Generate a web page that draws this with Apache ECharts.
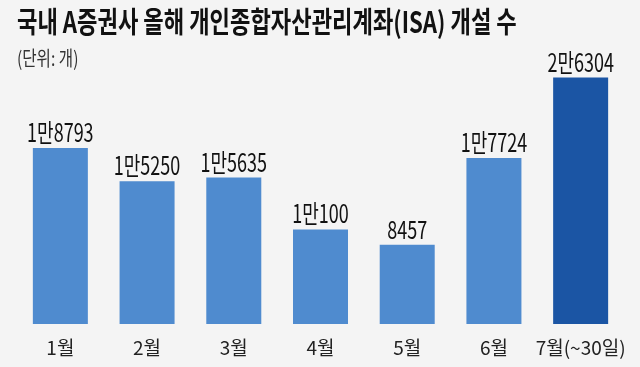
<!DOCTYPE html>
<html>
<head>
<meta charset="utf-8">
<script src="https://cdn.jsdelivr.net/npm/echarts@6/dist/echarts.min.js"></script>
<style>
  html, body { margin: 0; padding: 0; background: #f4f4f4; }
  #chart { width: 640px; height: 367px; }
</style>
</head>
<body>
<div id="chart"></div>
<script>
const months = ['1월', '2월', '3월', '4월', '5월', '6월', '7월(~30일)'];
const accounts = [18793, 15250, 15635, 10100, 8457, 17724, 26304];
const valueLabels = ['1만8793', '1만5250', '1만5635', '1만100', '8457', '1만7724', '2만6304'];

const korean = "'Noto Sans CJK KR', sans-serif";

const myChart = echarts.init(document.getElementById('chart'));

// bar + condensed value label, positioned by the axes
function renderBar(params, api) {
  const idx = params.dataIndex;
  const top = api.coord([api.value(0), api.value(1)]);
  const base = api.coord([api.value(0), 0]);
  const w = 55;
  const last = idx === accounts.length - 1;
  return {
    type: 'group',
    children: [
      {
        type: 'rect',
        shape: { x: top[0] - w / 2, y: top[1], width: w, height: base[1] - top[1] },
        style: { fill: last ? '#1b55a4' : '#4f8bcf' }
      },
      {
        type: 'text',
        x: top[0],
        y: top[1] - 3,
        scaleX: 0.72,
        style: {
          text: valueLabels[idx],
          font: '25px ' + korean,
          fill: '#111',
          align: 'center',
          verticalAlign: 'bottom'
        }
      }
    ]
  };
}

const option = {
  backgroundColor: '#f4f4f4',
  animation: false,
  graphic: [
    {
      type: 'text',
      left: 17,
      top: 7,
      scaleX: 0.765,
      style: {
        text: '국내 A증권사 올해 개인종합자산관리계좌(ISA) 개설 수',
        font: 'bold 29px ' + korean,
        fill: '#111'
      }
    },
    {
      type: 'text',
      left: 17,
      top: 48,
      scaleX: 0.78,
      style: {
        text: '(단위: 개)',
        font: '20px ' + korean,
        fill: '#333'
      }
    }
  ],
  grid: { left: 17, right: 16, top: 43, bottom: 43 },
  xAxis: {
    type: 'category',
    data: months,
    axisLine: { show: false },
    axisTick: { show: false },
    axisLabel: {
      interval: 0,
      margin: 14,
      fontSize: 19,
      fontFamily: korean,
      color: '#222'
    }
  },
  yAxis: {
    type: 'value',
    min: 0,
    max: 30000,
    show: false,
    splitLine: { show: false }
  },
  series: [
    {
      type: 'custom',
      renderItem: renderBar,
      encode: { x: 0, y: 1 },
      data: accounts.map((v, i) => [i, v])
    }
  ]
};

myChart.setOption(option);
</script>
</body>
</html>
